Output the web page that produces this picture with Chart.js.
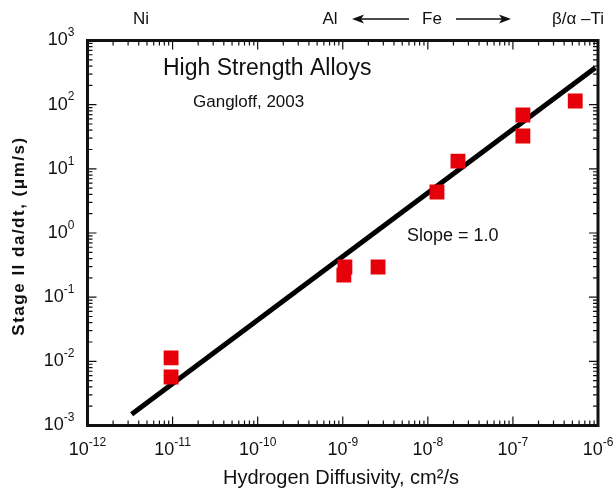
<!DOCTYPE html>
<html>
<head>
<meta charset="utf-8">
<script src="https://cdn.jsdelivr.net/npm/chart.js@4.4.1/dist/chart.umd.min.js"></script>
<style>
  html, body { margin: 0; padding: 0; background: #fff; }
  #wrap { width: 616px; height: 493px; }
</style>
</head>
<body>
<div id="wrap"><canvas id="chart" width="616" height="493"></canvas></div>
<script>
// measured points (hydrogen diffusivity vs stage II da/dt)
const diffusivity = [9.6e-12, 9.6e-12, 1.06e-9, 1.03e-9, 2.6e-9, 1.28e-8, 2.26e-8, 1.31e-7, 1.31e-7, 5.4e-7];
const crackRate = [0.0113, 0.0057, 0.295, 0.22, 0.295, 4.35, 13.2, 69, 32.5, 114];

// fitted line, slope = 1.0
const fitX = [3.3e-12, 9.3e-7];
const fitY = [1.5e-3, 375];

const xExponents = [-12, -11, -10, -9, -8, -7, -6];
const yExponents = [-3, -2, -1, 0, 1, 2, 3];

const FONT = '"Liberation Sans", Arial, sans-serif';

const pointsData = diffusivity.map((x, i) => ({ x: x, y: crackRate[i] }));
const fitData = fitX.map((x, i) => ({ x: x, y: fitY[i] }));

function drawPower(ctx, base, exp, x, y, align, size) {
    ctx.font = size + 'px ' + FONT;
    const wb = ctx.measureText(base).width;
    ctx.font = Math.round(size * 0.66) + 'px ' + FONT;
    const we = ctx.measureText(exp).width;
    let left = x;
    if (align === 'center') left = x - (wb + we) / 2;
    if (align === 'right') left = x - wb - we;
    ctx.textBaseline = 'middle';
    ctx.textAlign = 'left';
    ctx.font = size + 'px ' + FONT;
    ctx.fillText(base, left, y);
    ctx.font = Math.round(size * 0.66) + 'px ' + FONT;
    ctx.fillText(exp, left + wb, y - size * 0.42);
}

const frame = {
    id: 'frame',
    afterDatasetsDraw(chart) {
        const ctx = chart.ctx;
        const a = chart.chartArea;
        const xs = chart.scales.x, ys = chart.scales.y;
        ctx.save();
        ctx.fillStyle = '#111';
        ctx.strokeStyle = '#111';

        // ticks on all four sides, pointing in
        ctx.lineWidth = 1.2;
        ctx.beginPath();
        for (let e = xExponents[0]; e < xExponents[xExponents.length - 1]; e++) {
            for (let m = 1; m <= 10; m++) {
                const px = xs.getPixelForValue(m * Math.pow(10, e));
                const len = (m === 1 || m === 10) ? 9 : 5;
                ctx.moveTo(px, a.bottom); ctx.lineTo(px, a.bottom - len);
                ctx.moveTo(px, a.top); ctx.lineTo(px, a.top + len);
            }
        }
        for (let e = yExponents[0]; e < yExponents[yExponents.length - 1]; e++) {
            for (let m = 1; m <= 10; m++) {
                const py = ys.getPixelForValue(m * Math.pow(10, e));
                const len = (m === 1 || m === 10) ? 9 : 5;
                ctx.moveTo(a.left, py); ctx.lineTo(a.left + len, py);
                ctx.moveTo(a.right, py); ctx.lineTo(a.right - len, py);
            }
        }
        ctx.stroke();

        // box
        ctx.lineWidth = 3;
        ctx.strokeRect(a.left, a.top, a.right - a.left, a.bottom - a.top);

        // tick labels
        xExponents.forEach(e => {
            drawPower(ctx, '10', String(e), xs.getPixelForValue(Math.pow(10, e)), a.bottom + 25, 'center', 18);
        });
        yExponents.forEach(e => {
            drawPower(ctx, '10', String(e), a.left - 13, ys.getPixelForValue(Math.pow(10, e)), 'right', 18);
        });

        // axis titles
        ctx.textAlign = 'center';
        ctx.textBaseline = 'middle';
        ctx.font = '20px ' + FONT;
        ctx.fillText('Hydrogen Diffusivity, cm\u00B2/s', 341, 478);
        ctx.save();
        ctx.translate(19, 236);
        ctx.rotate(-Math.PI / 2);
        ctx.font = 'bold 17px ' + FONT;
        ctx.letterSpacing = '1.5px';
        ctx.fillText('Stage II da/dt, (\u03BCm/s)', 0, 0);
        ctx.restore();

        // annotations in the plot
        ctx.textAlign = 'left';
        ctx.font = '23px ' + FONT;
        ctx.fillText('High Strength Alloys', 163, 69);
        ctx.font = '17px ' + FONT;
        ctx.fillText('Gangloff, 2003', 193, 102);
        ctx.font = '18px ' + FONT;
        ctx.fillText('Slope = 1.0', 407, 236);

        // alloy labels above the plot
        ctx.font = '17px ' + FONT;
        ctx.textAlign = 'center';
        ctx.fillText('Ni', 141, 19);
        ctx.fillText('Al', 330, 19);
        ctx.fillText('Fe', 432, 19);
        ctx.fillText('\u03B2/\u03B1 \u2013Ti', 578, 19);
        ctx.lineWidth = 1.4;
        ctx.beginPath();
        ctx.moveTo(356, 19); ctx.lineTo(409, 19);
        ctx.moveTo(456, 19); ctx.lineTo(507, 19);
        ctx.stroke();
        ctx.beginPath();
        ctx.moveTo(352, 19); ctx.lineTo(364, 14.5); ctx.lineTo(361, 19); ctx.lineTo(364, 23.5); ctx.closePath();
        ctx.moveTo(511, 19); ctx.lineTo(499, 14.5); ctx.lineTo(502, 19); ctx.lineTo(499, 23.5); ctx.closePath();
        ctx.fill();
        ctx.restore();
    }
};

new Chart(document.getElementById('chart'), {
    type: 'scatter',
    data: {
        datasets: [
            {
                label: 'Fit',
                data: fitData,
                showLine: true,
                borderColor: '#000',
                borderWidth: 5,
                pointRadius: 0,
                order: 2
            },
            {
                label: 'High Strength Alloys',
                data: pointsData,
                pointStyle: 'rect',
                pointRadius: 10.5,
                backgroundColor: '#e5000a',
                borderColor: '#e5000a',
                borderWidth: 0,
                order: 1
            }
        ]
    },
    options: {
        responsive: false,
        animation: false,
        layout: { padding: { left: 87.5, top: 40.5, right: 18, bottom: 67.5 } },
        plugins: { legend: { display: false }, tooltip: { enabled: false } },
        scales: {
            x: { type: 'logarithmic', min: 1e-12, max: 1e-6, display: false },
            y: { type: 'logarithmic', min: 1e-3, max: 1e3, display: false }
        }
    },
    plugins: [frame]
});
</script>
</body>
</html>
